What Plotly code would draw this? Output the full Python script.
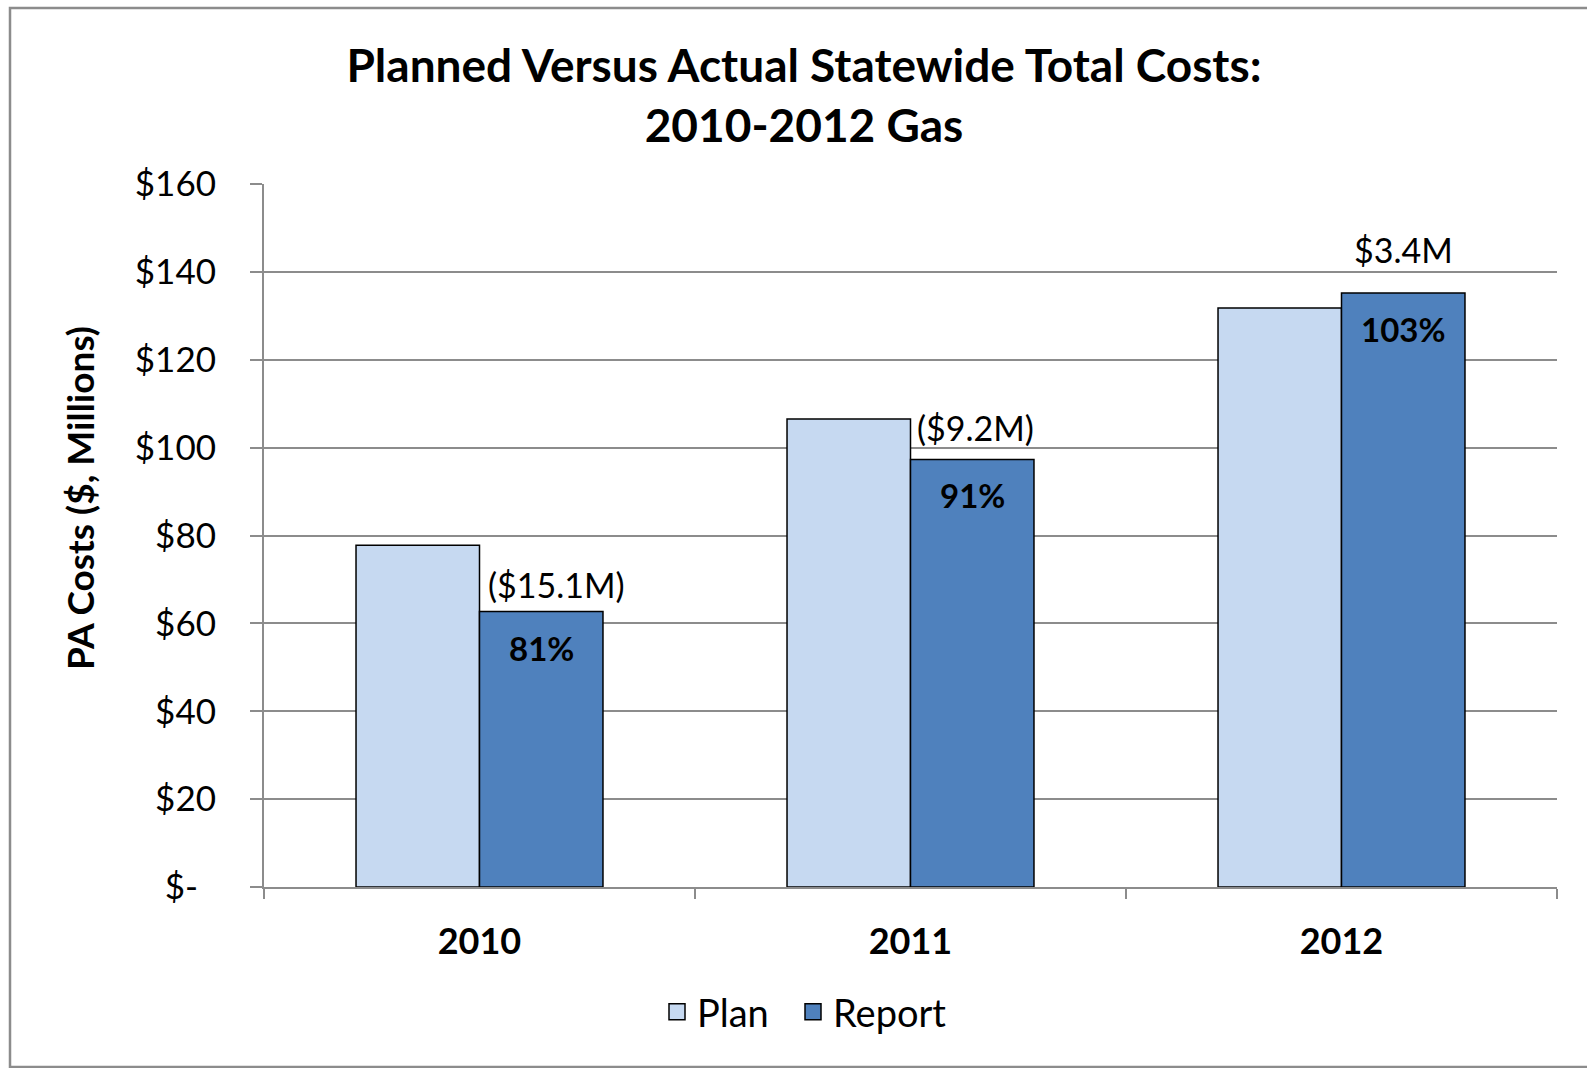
import plotly.graph_objects as go

# ---- data ----
years = ["2010", "2011", "2012"]
plan = [77.8, 106.5, 131.8]
report = [62.7, 97.3, 135.2]
y_tick_vals = [0, 20, 40, 60, 80, 100, 120, 140, 160]
y_tick_text = ["$-\u00a0\u00a0", "$20", "$40", "$60", "$80", "$100", "$120", "$140", "$160"]

# ---- styles ----
FONT = "Lato"
PLAN_COLOR = "#C6D9F1"
REPORT_COLOR = "#4F81BD"
GRID = "#8C8C8C"
BARGAP = 0.427
W, H = 1587, 1068
ML, MR, MT, MB = 264, 30, 184, 181
diff_dx = [15, 3, 0]     # px offsets for difference labels
diff_dy = [27, 32, 43]
pct_dy = -36

fig = go.Figure()
fig.add_bar(x=years, y=plan, name="Plan", marker=dict(color=PLAN_COLOR, line=dict(color="black", width=1.5)),
            showlegend=False)
fig.add_bar(x=years, y=report, name="Report", marker=dict(color=REPORT_COLOR, line=dict(color="black", width=1.5)),
            showlegend=False)
# legend swatches
for nm, col, lw in [("Plan", PLAN_COLOR, 91), ("Report", REPORT_COLOR, 125)]:
    fig.add_scatter(x=[None], y=[None], mode="markers", name=nm, legendwidth=lw,
                    marker=dict(symbol="square", size=16, color=col, line=dict(color="black", width=1.5)))

annotations = []
off = (1 - BARGAP) / 4
for i, (p, r) in enumerate(zip(plan, report)):
    d = r - p
    dtxt = f"${d:.1f}M" if d >= 0 else f"(${-d:.1f}M)"
    annotations.append(dict(x=i + off, y=r, xref="x", yref="y", text=dtxt, showarrow=False,
                            xshift=diff_dx[i], yshift=diff_dy[i], yanchor="middle",
                            font=dict(family=FONT, size=34, color="black")))
    annotations.append(dict(x=i + off, y=r, xref="x", yref="y", text=f"<b>{round(r / p * 100)}%</b>",
                            showarrow=False, yshift=pct_dy, yanchor="middle",
                            font=dict(family=FONT, size=33, color="black")))

pw = W - ML - MR
ph = H - MT - MB
# y-axis title
annotations.append(dict(x=(79 - ML) / pw, y=(H - 498 - MB) / ph, xref="paper", yref="paper",
                        text="<b>PA Costs ($, Millions)</b>", textangle=-90, showarrow=False,
                        xanchor="center", yanchor="middle", font=dict(family=FONT, size=37, color="black")))

# outer frame
shapes = [dict(type="rect", xref="paper", yref="paper",
               x0=(10 - ML) / pw, x1=(1640 - ML) / pw,
               y0=(H - 1067 - MB) / ph, y1=(H - 8 - MB) / ph,
               line=dict(color="#8C8C8C", width=2.5), fillcolor="rgba(0,0,0,0)", layer="below")]

fig.update_layout(
    width=W, height=H,
    margin=dict(l=ML, r=MR, t=MT, b=MB, autoexpand=False),
    paper_bgcolor="white", plot_bgcolor="white",
    barmode="group", bargap=BARGAP, bargroupgap=0,
    title=dict(text="<b>Planned Versus Actual Statewide Total Costs:<br>2010-2012 Gas</b>",
               x=(804 - ML) / pw, xref="paper", xanchor="center", y=1 - 82 / H, yanchor="middle",
               font=dict(family=FONT, size=46, color="black")),
    font=dict(family=FONT, color="black"),
    legend=dict(orientation="h", x=(657 - ML) / pw, xanchor="left", y=(H - 1012 - MB) / ph, yanchor="middle",
                font=dict(family=FONT, size=38, color="black"), itemsizing="trace", traceorder="normal"),
    annotations=annotations,
    shapes=shapes,
)
fig.update_xaxes(type="category", showgrid=False, showline=True, linecolor=GRID, linewidth=2,
                 ticks="outside", tickson="boundaries", ticklen=10, tickwidth=2, tickcolor=GRID,
                 tickfont=dict(family=FONT, size=36, color="black"), ticklabelstandoff=22,
                 tickvals=years, ticktext=[f"<b>{y}</b>" for y in years], range=[-0.5, 2.5],
                 automargin=False)
fig.update_yaxes(range=[0, 160], tickvals=y_tick_vals, ticktext=y_tick_text, showgrid=True,
                 gridcolor=GRID, gridwidth=2, showline=True, linecolor=GRID, linewidth=2,
                 ticks="outside", ticklen=12, tickwidth=2, tickcolor=GRID, zeroline=False,
                 tickfont=dict(family=FONT, size=35, color="black"), ticklabelstandoff=27,
                 automargin=False)

fig.write_html("out.html", config={"displayModeBar": False},
               post_script="document.body.style.margin='0px';document.body.style.overflow='hidden';")
